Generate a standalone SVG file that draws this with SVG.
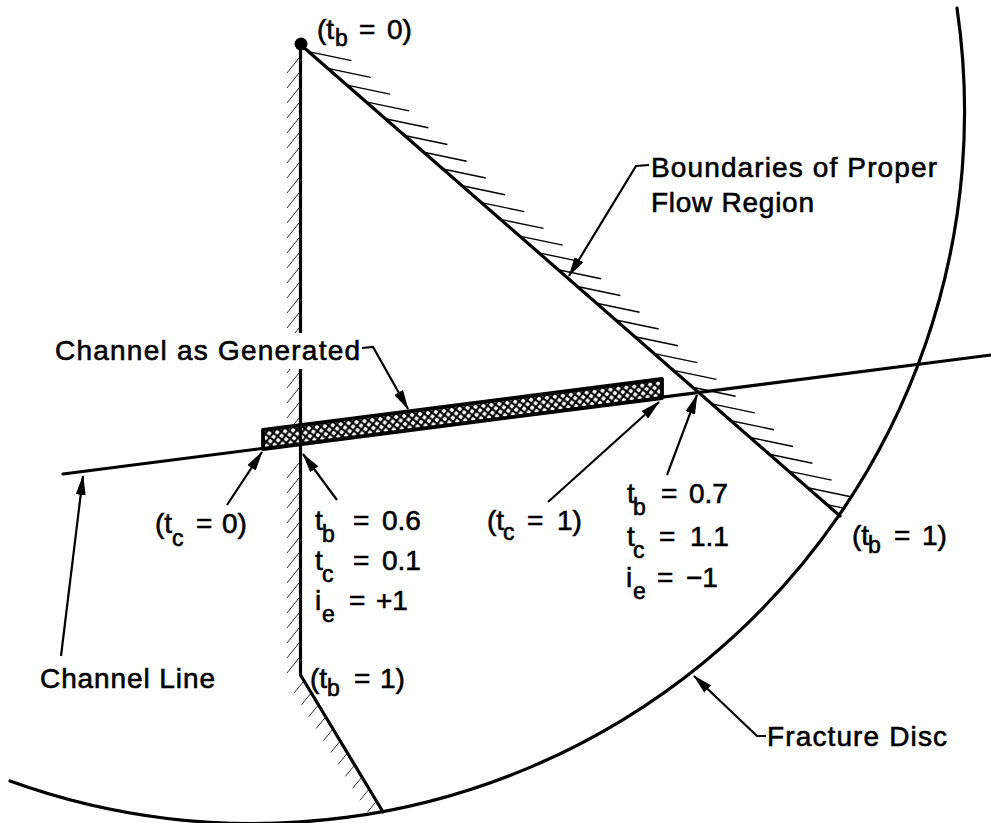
<svg xmlns="http://www.w3.org/2000/svg" width="991" height="823" viewBox="0 0 991 823">
<style>
.ln{fill:none;stroke:#000;stroke-width:3.2;stroke-linecap:round;stroke-linejoin:round}
.ht{fill:none;stroke:#000;stroke-width:1.4}
.hl{fill:none;stroke:#333;stroke-width:1}
.ld{fill:none;stroke:#000;stroke-width:2.2;marker-end:url(#ah)}
.t{font-family:"Liberation Sans",Arial,Helvetica,sans-serif;font-size:28px;fill:#000;stroke:#000;stroke-width:0.6}
.s{font-size:23px}
</style>
<defs>
<marker id="ah" viewBox="0 0 20 10" refX="19" refY="5" markerWidth="20" markerHeight="10" markerUnits="userSpaceOnUse" orient="auto">
<path d="M0,0 L20,5 L0,10 z" fill="#000"/>
</marker>
<pattern id="xh" width="8" height="8" patternUnits="userSpaceOnUse" patternTransform="rotate(-7.3)">
<rect width="8" height="8" fill="#fff"/>
<path d="M-1,-1 L9,9 M9,-1 L-1,9" stroke="#000" stroke-width="2"/>
</pattern>
<clipPath id="disc"><circle cx="254" cy="112" r="712"/></clipPath>
</defs>
<rect width="991" height="823" fill="#fff"/>

<g id="fracture-disc">
<path class="ln" d="M957,8 A712,712 0 0 1 10,781"/>
</g>

<g id="channel-line">
<path class="ln" d="M63,474 L991,355"/>
</g>

<g id="boundary-diagonal">
<path class="ln" d="M301,45 L840,516" stroke-width="3.8"/>
<path class="ht" clip-path="url(#disc)" d="M308.5,51.6 l43,9 M327.7,68.4 l43,9 M346.9,85.1 l43,9 M366.1,101.9 l43,9 M385.3,118.7 l43,9 M404.5,135.5 l43,9 M423.7,152.3 l43,9 M442.9,169 l43,9 M462.1,185.8 l43,9 M481.3,202.6 l43,9 M500.5,219.4 l43,9 M519.7,236.1 l43,9 M538.9,252.9 l43,9 M558.1,269.7 l43,9 M577.4,286.5 l43,9 M596.6,303.3 l43,9 M615.8,320 l43,9 M635,336.8 l43,9 M654.2,353.6 l43,9 M673.4,370.4 l43,9 M692.6,387.2 l43,9 M711.8,403.9 l43,9 M731,420.7 l43,9 M750.2,437.5 l43,9 M769.4,454.3 l43,9 M788.6,471.1 l43,9 M807.8,487.8 l43,9 M827,504.6 l43,9"/>
</g>

<g id="channel">
<polygon points="263,430 662,379 662,398 263,449" fill="url(#xh)" stroke="#000" stroke-width="3.8" stroke-linejoin="round"/>
</g>

<g id="boundary-left">
<path class="hl" d="M299,58 l-12,15 M299,73 l-12,15 M299,88 l-12,15 M299,103 l-12,15 M299,118 l-12,15 M299,133 l-12,15 M299,148 l-12,15 M299,163 l-12,15 M299,178 l-12,15 M299,193 l-12,15 M299,208 l-12,15 M299,223 l-12,15 M299,238 l-12,15 M299,253 l-12,15 M299,268 l-12,15 M299,283 l-12,15 M299,298 l-12,15 M299,313 l-12,15 M299,328 l-12,15 M299,343 l-12,15 M299,358 l-12,15 M299,373 l-12,15 M299,388 l-12,15 M299,403 l-12,15 M299,418 l-12,15 M299,463 l-12,15 M299,478 l-12,15 M299,493 l-12,15 M299,508 l-12,15 M299,523 l-12,15 M299,538 l-12,15 M299,553 l-12,15 M299,568 l-12,15 M299,583 l-12,15 M299,598 l-12,15 M299,613 l-12,15 M299,628 l-12,15 M299,643 l-12,15 M299,658 l-12,15"/>
<path class="hl" d="M303.2,681.8 l-9,11 M310.5,693.8 l-9,11 M317.8,705.7 l-9,11 M325.1,717.6 l-9,11 M332.5,729.6 l-9,11 M339.8,741.5 l-9,11 M347.1,753.4 l-9,11 M354.4,765.4 l-9,11 M361.7,777.3 l-9,11 M369,789.2 l-9,11 M376.4,801.2 l-9,11"/>
<path class="ln" d="M300.5,45 L300.5,675 L383,812"/>
<circle cx="301" cy="44" r="6.5" fill="#000"/>
</g>

<g id="connectors">
<path class="ld" d="M649,165 L636,166 L569,276"/>
<path class="ld" d="M362,348 L373,347 L408,409"/>
<path class="ld" d="M227,505 L262,452"/>
<path class="ld" d="M337,500 L303,454"/>
<path class="ld" d="M548,502 L659,402"/>
<path class="ld" d="M667,475 L697,395"/>
<path class="ld" d="M61,656 L83,476"/>
<path class="ld" d="M766,736 L757,736 L694,676"/>
</g>

<g id="label-tb0">
<text class="t" x="317" y="39">(t<tspan class="s" x="335" dy="7">b</tspan><tspan x="359" dy="-7">=</tspan><tspan x="387">0)</tspan></text>
</g>
<g id="label-boundaries">
<text class="t" x="651" y="177" textLength="286" lengthAdjust="spacing">Boundaries  of Proper</text>
<text class="t" x="651" y="212" textLength="163" lengthAdjust="spacing">Flow Region</text>
</g>
<g id="label-channel-generated">
<rect x="285" y="333" width="27" height="36" fill="#fff"/>
<text class="t" x="55" y="360" textLength="305" lengthAdjust="spacing">Channel  as Generated</text>
</g>
<g id="label-tc0">
<text class="t" x="155" y="533">(t<tspan class="s" x="172" dy="13">c</tspan><tspan x="196" dy="-13">=</tspan><tspan x="222">0)</tspan></text>
</g>
<g id="label-entry">
<text class="t" x="315" y="530">t<tspan class="s" x="322" dy="12">b</tspan><tspan x="353" dy="-12">=</tspan><tspan x="382">0.6</tspan></text>
<text class="t" x="315" y="570">t<tspan class="s" x="322" dy="12">c</tspan><tspan x="353" dy="-12">=</tspan><tspan x="382">0.1</tspan></text>
<text class="t" x="315" y="610">i<tspan class="s" x="322" dy="12">e</tspan><tspan x="349" dy="-12">=</tspan><tspan x="376">+1</tspan></text>
</g>
<g id="label-tc1">
<text class="t" x="487" y="530">(t<tspan class="s" x="503" dy="10">c</tspan><tspan x="527" dy="-10">=</tspan><tspan x="557">1)</tspan></text>
</g>
<g id="label-exit">
<text class="t" x="627" y="503">t<tspan class="s" x="633" dy="12">b</tspan><tspan x="661" dy="-12">=</tspan><tspan x="689">0.7</tspan></text>
<text class="t" x="627" y="546">t<tspan class="s" x="633" dy="12">c</tspan><tspan x="659" dy="-12">=</tspan><tspan x="690">1.1</tspan></text>
<text class="t" x="626" y="587">i<tspan class="s" x="633" dy="12">e</tspan><tspan x="657" dy="-12">=</tspan><tspan x="686">−1</tspan></text>
</g>
<g id="label-tb1-right">
<text class="t" x="852" y="545">(t<tspan class="s" x="868" dy="8">b</tspan><tspan x="894" dy="-8">=</tspan><tspan x="922">1)</tspan></text>
</g>
<g id="label-tb1-lower">
<text class="t" x="310" y="688">(t<tspan class="s" x="327" dy="8">b</tspan><tspan x="354" dy="-8">=</tspan><tspan x="380">1)</tspan></text>
</g>
<g id="label-channel-line">
<text class="t" x="40" y="688" textLength="175" lengthAdjust="spacing">Channel  Line</text>
</g>
<g id="label-fracture-disc">
<text class="t" x="767" y="746" textLength="180" lengthAdjust="spacing">Fracture Disc</text>
</g>
</svg>
